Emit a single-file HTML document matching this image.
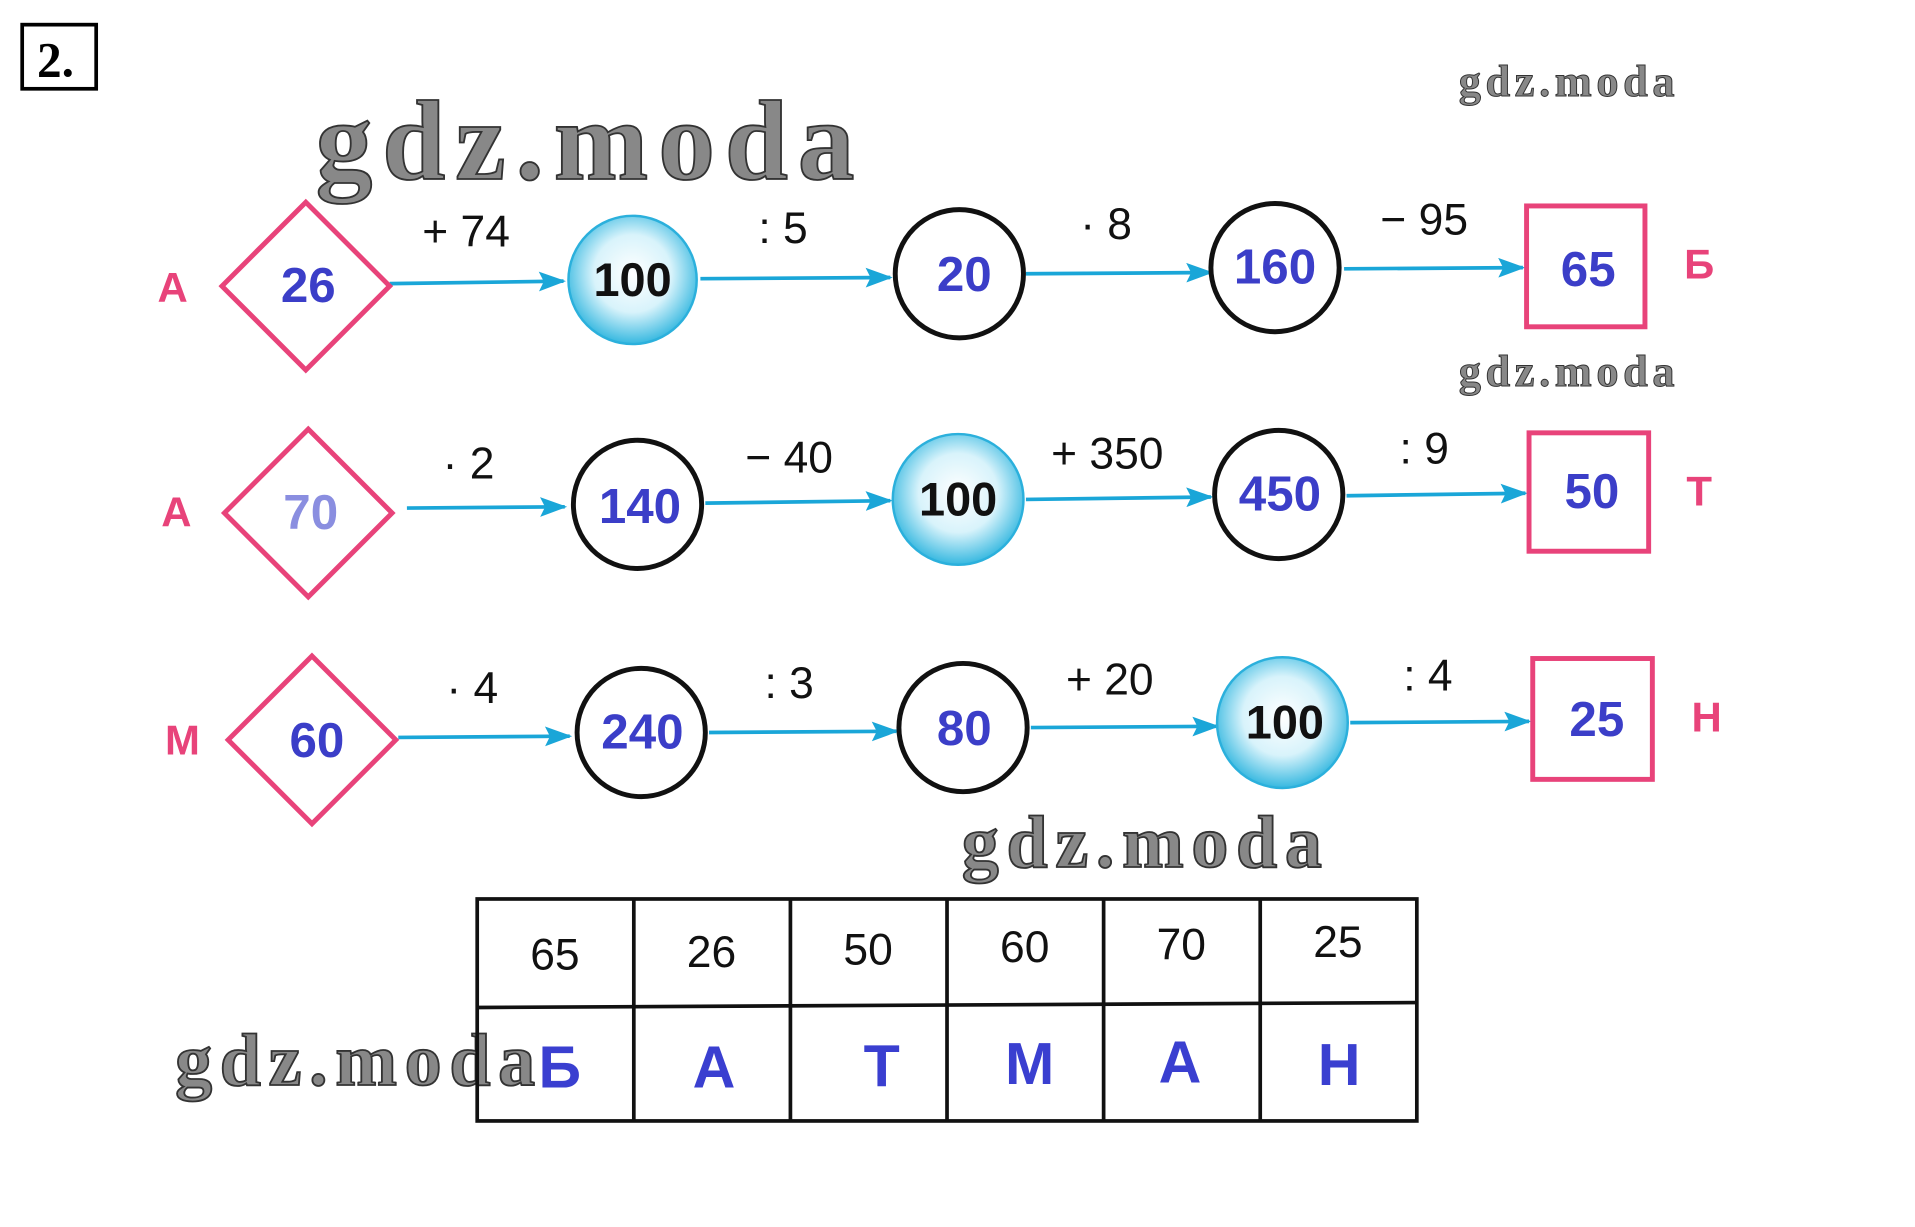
<!DOCTYPE html>
<html><head><meta charset="utf-8"><style>html,body{margin:0;padding:0;background:#fff;width:1915px;height:1227px;overflow:hidden}svg{display:block}</style></head><body>
<svg width="1915" height="1227" viewBox="0 0 1553 995" preserveAspectRatio="none" xmlns="http://www.w3.org/2000/svg">
<defs>
<radialGradient id="cy" cx="50%" cy="45%" r="55%"><stop offset="0" stop-color="#ffffff"/><stop offset="0.55" stop-color="#d8f3fb"/><stop offset="1" stop-color="#36b8e0"/></radialGradient>
<marker id="ah" markerWidth="22" markerHeight="18" refX="20" refY="8" orient="auto" markerUnits="userSpaceOnUse"><path d="M0,0 L22,8 L0,16 L4,8 z" fill="#1aa6d8"/></marker>
</defs>
<rect x="18" y="20" width="60" height="52" fill="none" stroke="#000" stroke-width="3"/>
<text x="30" y="62" font-family="Liberation Serif" font-size="40" font-weight="bold">2.</text>
<g font-family="Liberation Serif" font-weight="bold" fill="#888" stroke="#333" stroke-width="1.5">
<text x="256" y="145" font-size="92" textLength="437">gdz.moda</text>
<text x="1183" y="78" font-size="36" stroke-width="0.8" textLength="175">gdz.moda</text>
<text x="1183" y="313" font-size="36" stroke-width="0.8" textLength="175">gdz.moda</text>
<text x="780" y="703" font-size="60" textLength="292">gdz.moda</text>
<text x="142" y="880" font-size="60" textLength="292">gdz.moda</text>
</g>
<g fill="none" stroke="#1aa6d8" stroke-width="3">
<line x1="316" y1="230" x2="457" y2="228" marker-end="url(#ah)"/>
<line x1="568" y1="226" x2="722" y2="225" marker-end="url(#ah)"/>
<line x1="832" y1="222" x2="982" y2="221" marker-end="url(#ah)"/>
<line x1="1090" y1="218" x2="1235" y2="217" marker-end="url(#ah)"/>
<line x1="330" y1="412" x2="458" y2="411" marker-end="url(#ah)"/>
<line x1="572" y1="408" x2="722" y2="406" marker-end="url(#ah)"/>
<line x1="832" y1="405" x2="982" y2="403" marker-end="url(#ah)"/>
<line x1="1092" y1="402" x2="1237" y2="400" marker-end="url(#ah)"/>
<line x1="323" y1="598" x2="462" y2="597" marker-end="url(#ah)"/>
<line x1="575" y1="594" x2="727" y2="593" marker-end="url(#ah)"/>
<line x1="836" y1="590" x2="987" y2="589" marker-end="url(#ah)"/>
<line x1="1095" y1="586" x2="1240" y2="585" marker-end="url(#ah)"/>
</g>
<g fill="none" stroke="#e8437a" stroke-width="4">
<polygon points="248,164 316,232 248,300 180,232"/>
<polygon points="250,348 318,416 250,484 182,416"/>
<polygon points="253,532 321,600 253,668 185,600"/>
<rect x="1238" y="167" width="96" height="98"/>
<rect x="1240" y="351" width="97" height="96"/>
<rect x="1243" y="534" width="97" height="98"/>
</g>
<g fill="url(#cy)" stroke="#2bb0dc" stroke-width="2">
<circle cx="513" cy="227" r="52"/><circle cx="777" cy="405" r="53"/><circle cx="1040" cy="586" r="53"/>
</g>
<g fill="none" stroke="#111" stroke-width="4">
<circle cx="778" cy="222" r="52"/><circle cx="1034" cy="217" r="52"/>
<circle cx="517" cy="409" r="52"/><circle cx="1037" cy="401" r="52"/>
<circle cx="520" cy="594" r="52"/><circle cx="781" cy="590" r="52"/>
</g>
<g font-family="Liberation Sans" font-weight="bold" font-size="40" text-anchor="middle" fill="#3b3ec8">
<text x="250" y="245">26</text><text x="782" y="236">20</text><text x="1034" y="230">160</text><text x="1288" y="232">65</text>
<text x="252" y="429" fill="#8a8ee0">70</text><text x="519" y="424">140</text><text x="1038" y="414">450</text><text x="1291" y="412">50</text>
<text x="257" y="614">60</text><text x="521" y="607">240</text><text x="782" y="604">80</text><text x="1295" y="597">25</text>
</g>
<g font-family="Liberation Sans" font-weight="bold" font-size="38" text-anchor="middle" fill="#111">
<text x="513" y="240">100</text><text x="777" y="418">100</text><text x="1042" y="599">100</text>
</g>
<g font-family="Liberation Sans" font-weight="bold" font-size="34" text-anchor="middle" fill="#e8437a">
<text x="140" y="245">А</text><text x="1378" y="226">Б</text>
<text x="143" y="427">А</text><text x="1378" y="410">Т</text>
<text x="148" y="612">М</text><text x="1384" y="593">Н</text>
</g>
<g font-family="Liberation Sans" font-size="36" text-anchor="middle" fill="#111">
<text x="378" y="200">+ 74</text><text x="635" y="197">: 5</text><text x="897" y="194">· 8</text><text x="1155" y="190">− 95</text>
<text x="380" y="388">· 2</text><text x="640" y="383">− 40</text><text x="898" y="380">+ 350</text><text x="1155" y="376">: 9</text>
<text x="383" y="570">· 4</text><text x="640" y="566">: 3</text><text x="900" y="563">+ 20</text><text x="1158" y="560">: 4</text>
</g>
<g stroke="#111" stroke-width="3" fill="none">
<rect x="387" y="729" width="762" height="180"/>
<line x1="387" y1="817" x2="1149" y2="813"/>
<line x1="514" y1="729" x2="514" y2="909"/><line x1="641" y1="729" x2="641" y2="909"/>
<line x1="768" y1="729" x2="768" y2="909"/><line x1="895" y1="729" x2="895" y2="909"/>
<line x1="1022" y1="729" x2="1022" y2="909"/>
</g>
<g font-family="Liberation Sans" font-size="36" text-anchor="middle" fill="#111">
<text x="450" y="786">65</text><text x="577" y="784">26</text><text x="704" y="782">50</text><text x="831" y="780">60</text><text x="958" y="778">70</text><text x="1085" y="776">25</text>
</g>
<g font-family="Liberation Sans" font-weight="bold" font-size="48" text-anchor="middle" fill="#3a3fd0">
<text x="454" y="882">Б</text><text x="579" y="882">А</text><text x="715" y="881">Т</text><text x="835" y="879">М</text><text x="957" y="878">А</text><text x="1086" y="880">Н</text>
</g>
</svg>
</body></html>
